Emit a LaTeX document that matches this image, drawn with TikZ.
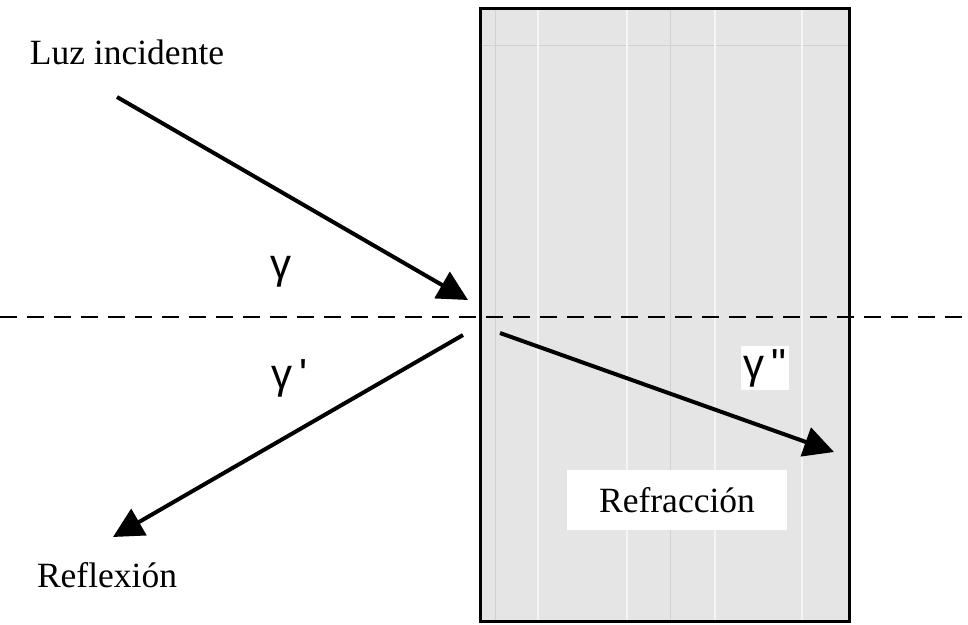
\documentclass[tikz,border=0pt]{standalone}
\usepackage{fontspec}
\setmainfont{Liberation Serif}
\newfontfamily\greekfont{Liberation Sans}
\usetikzlibrary{arrows.meta}
\begin{document}
\begin{tikzpicture}[x=1pt,y=-1pt,
  ray/.style={line width=4pt,-{Triangle[length=30pt,width=30pt]}},
  lbl/.style={font=\fontsize{35.5}{38}\selectfont,inner sep=2pt},
  glbl/.style={font=\greekfont\fontsize{42}{46}\selectfont,inner sep=3pt},
  medium/.style={draw=black,line width=3pt,fill=black!10}]
\useasboundingbox (0,0) rectangle (968,624);
\fill[white] (0,0) rectangle (968,624);
% medium
\draw[medium] (480,8) rectangle (849,621);
\begin{scope}
\clip (480,8) rectangle (849,621);
\draw[black!18,line width=1pt] (495,8) -- (495,621) (670,8) -- (670,621);
\draw[black!18,line width=1pt] (480,45) -- (849,45);
\draw[black!4,line width=1.5pt] (538,8) -- (538,621) (627,8) -- (627,621) (715,8) -- (715,621) (802,8) -- (802,621);
\end{scope}
\draw[line width=3pt] (480,8) rectangle (849,621);
% normal line
\coordinate (nl) at (0,317);
\coordinate (nr) at (968,317);
\draw[line width=2pt,dash pattern=on 17pt off 10pt] (nl) -- (nr);
% rays
\coordinate (a0) at (117,97);
\coordinate (a1) at (468,300);
\coordinate (b0) at (463,335);
\coordinate (b1) at (113,537);
\coordinate (c0) at (500,333);
\coordinate (c1) at (834,452);
\draw[ray] (a0) -- (a1);
\draw[ray] (b0) -- (b1);
\draw[ray] (c0) -- (c1);
% labels
\node[lbl] (luz) at (127,52) {Luz incidente};
\node[lbl] (refl) at (107,575) {Reflexión};
\node[lbl,fill=white,minimum width=220pt,minimum height=60pt] (refr) at (677,500) {Refracción};
\node[glbl] (g1) at (281,272) {γ};
\node[glbl] (g2) at (290,378) {γ\,'};
\node[glbl,fill=white] (g3) at (765,368) {γ\,"};
\end{tikzpicture}
\end{document}
